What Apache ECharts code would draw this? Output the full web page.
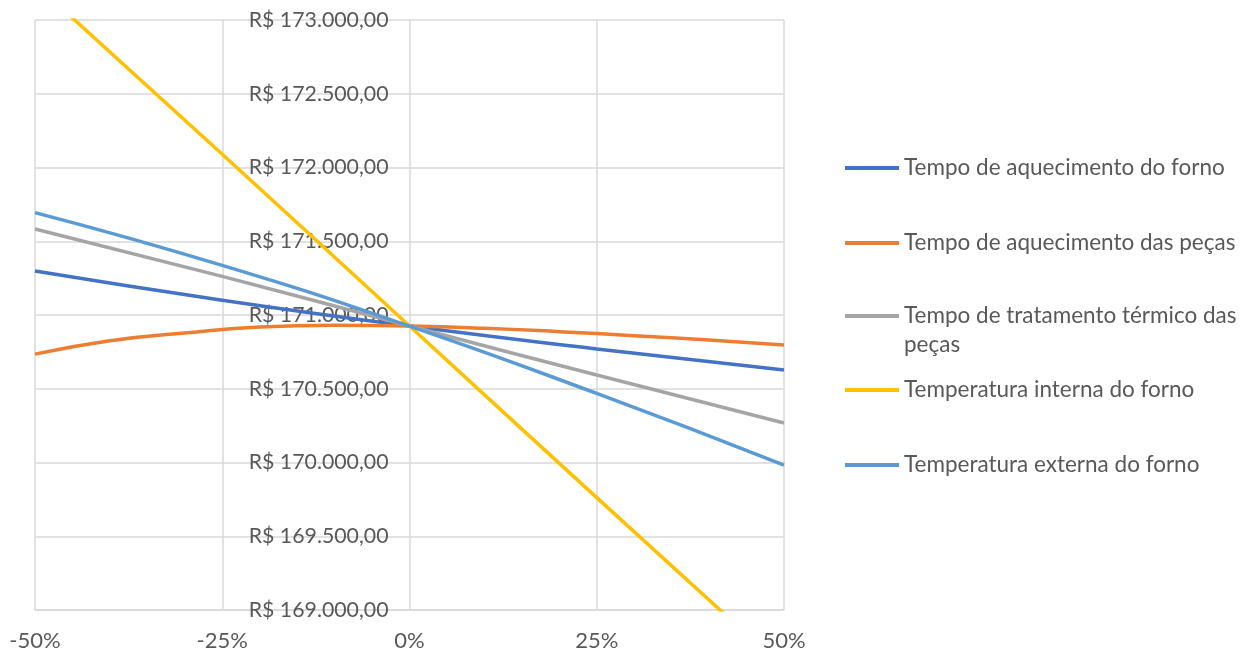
<!DOCTYPE html>
<html>
<head>
<meta charset="utf-8">
<script src="https://cdn.jsdelivr.net/npm/echarts@6/dist/echarts.min.js"></script>
<style>
  html, body { margin: 0; padding: 0; background: #fff; }
  #chart { width: 1248px; height: 651px; }
</style>
</head>
<body>
<div id="chart"></div>
<script>
// Variação percentual dos parâmetros do processo
const variacao = [-50, -25, 0, 25, 50];
const variacaoPecas = [-50, -40, -30, -20, -10, 0, 10, 20, 30, 40, 50];

// Custo total (R$) para cada variação
const tempoAquecForno   = [171298, 171100, 170925, 170770, 170627];
const tempoAquecPecas   = [170735, 170826, 170878, 170919, 170930, 170925, 170910, 170887, 170860, 170830, 170797];
const tempoTratamento   = [171583, 171262, 170925, 170593, 170268];
const tempInternaForno  = [173245, 172090, 170925, 169762, 168605];
const tempExternaForno  = [171694, 171336, 170925, 170468, 169983];

const seriesNames = [
  'Tempo de aquecimento do forno',
  'Tempo de aquecimento das peças',
  'Tempo de tratamento térmico das peças',
  'Temperatura interna do forno',
  'Temperatura externa do forno'
];
const seriesX = [variacao, variacaoPecas, variacao, variacao, variacao];
const seriesValues = [tempoAquecForno, tempoAquecPecas, tempoTratamento, tempInternaForno, tempExternaForno];
const colors = ['#4472C4', '#ED7D31', '#A5A5A5', '#FFC000', '#5B9BD5'];
// Legend label lines; the wrapped label gets an empty leading line so
// its first line stays level with the icon.
const legendLines = [
  ['Tempo de aquecimento do forno'],
  ['Tempo de aquecimento das peças'],
  ['', 'Tempo de tratamento térmico das', 'peças'],
  ['Temperatura interna do forno'],
  ['Temperatura externa do forno']
];
const legendRows = [168, 243, 316, 390, 465];

const FONT = 'Lato';
const TEXT = '#595959';
const GRID = '#D9D9D9';
const LINE_H = 29;

function brl(v) {
  const s = Math.round(v).toString().replace(/\B(?=(\d{3})+(?!\d))/g, '.');
  return 'R$ ' + s + ',00';
}

const chart = echarts.init(document.getElementById('chart'), null, { renderer: 'canvas' });

const series = seriesNames.map((name, i) => ({
  name: name,
  type: 'line',
  data: seriesX[i].map((x, k) => [x, seriesValues[i][k]]),
  smooth: 0.5,
  showSymbol: false,
  symbol: 'none',
  clip: true,
  lineStyle: { color: colors[i], width: 3.5 },
  itemStyle: { color: colors[i] },
  emphasis: { disabled: true }
}));

// One legend block per series so each row sits at its own height
const legends = seriesNames.map((name, i) => {
  const lines = legendLines[i];
  const half = (LINE_H * lines.length) / 2;
  return {
    show: true,
    left: 845,
    top: legendRows[i] - half,
    padding: 0,
    orient: 'vertical',
    icon: 'rect',
    itemWidth: 54,
    itemHeight: 4,
    selectedMode: false,
    data: [name],
    formatter: () => lines.join('\n'),
    textStyle: {
      fontFamily: FONT, fontSize: 22.5, color: TEXT,
      lineHeight: LINE_H
    }
  };
});

chart.setOption({
  animation: false,
  color: colors,
  grid: { left: 35, right: 464, top: 20, bottom: 41, containLabel: false, outerBoundsMode: 'none' },
  legend: legends,
  xAxis: {
    type: 'value',
    min: -50,
    max: 50,
    interval: 25,
    axisLine: { show: true, onZero: false, lineStyle: { color: GRID, width: 1.5 } },
    axisTick: { show: false },
    splitLine: { show: true, lineStyle: { color: GRID, width: 1.5 } },
    axisLabel: {
      margin: 20,
      fontFamily: FONT, fontSize: 22, color: TEXT,
      formatter: v => v + '%'
    }
  },
  yAxis: {
    type: 'value',
    position: 'left',
    offset: -374.5,
    min: 169000,
    max: 173000,
    interval: 500,
    axisLine: { show: false, onZero: false },
    axisTick: { show: false },
    splitLine: { show: true, lineStyle: { color: GRID, width: 1.5 } },
    axisLabel: {
      margin: 21,
      fontFamily: FONT, fontSize: 21.3, color: TEXT,
      formatter: v => brl(v)
    }
  },
  series: series
});
</script>
</body>
</html>
